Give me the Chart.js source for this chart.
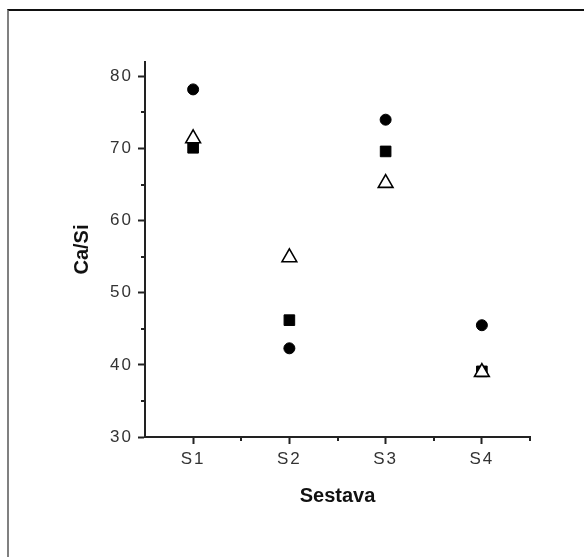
<!DOCTYPE html>
<html>
<head>
<meta charset="utf-8">
<script src="https://cdn.jsdelivr.net/npm/chart.js@4/dist/chart.umd.min.js"></script>
<style>
  html, body { margin: 0; padding: 0; background: #fff; }
  #wrap { position: relative; width: 584px; height: 557px; }
  #frame {
    position: absolute; left: 7px; top: 9px; right: 0; bottom: 0;
    border-top: 2px solid #111; border-left: 2px solid #808080;
  }
  canvas { position: absolute; left: 0; top: 0; }
</style>
</head>
<body>
<div id="wrap">
  <div id="frame"></div>
  <canvas id="chart" width="584" height="557"></canvas>
</div>
<script>
// ==== Data ====
const categories = ["S1", "S2", "S3", "S4"];
const circles = [78.2, 42.3, 74.0, 45.5];
const squares = [70.1, 46.2, 69.6, 39.1];
const triangles = [71.4, 54.9, 65.2, 39.0];
const yTicks = [30, 40, 50, 60, 70, 80];
const yMinor = [35, 45, 55, 65, 75];
const xMinor = [1.5, 2.5, 3.5, 4.5];

// short outward ticks between the labelled ones
const minorTicks = {
  id: "minorTicks",
  beforeDraw(chart) {
    chart.ctx.letterSpacing = "0px";
  },
  afterDatasetsDraw(chart) {
    // tick labels are drawn on a later layer, give them the spaced look
    chart.ctx.letterSpacing = "2px";
  },
  afterDraw(chart) {
    const { ctx, chartArea, scales } = chart;
    ctx.save();
    ctx.strokeStyle = "#222";
    ctx.lineWidth = 2;
    ctx.beginPath();
    yMinor.forEach(v => {
      const y = Math.round(scales.y.getPixelForValue(v));
      ctx.moveTo(chartArea.left - 4, y);
      ctx.lineTo(chartArea.left, y);
    });
    xMinor.forEach(v => {
      const x = Math.round(scales.x.getPixelForValue(v - 1));
      ctx.moveTo(x, chartArea.bottom);
      ctx.lineTo(x, chartArea.bottom + 4);
    });
    ctx.stroke();
    ctx.restore();
    ctx.letterSpacing = "0px";
  }
};

const tickFont = { family: "'Liberation Sans', Arial, sans-serif", size: 17 };
const titleFont = { family: "'Liberation Sans', Arial, sans-serif", size: 20, weight: "bold" };

new Chart(document.getElementById("chart"), {
  type: "line",
  data: {
    labels: categories,
    datasets: [
      { label: "circle", data: circles, pointStyle: "circle", pointRadius: 5.5,
        backgroundColor: "#000", borderColor: "#000", borderWidth: 1, order: 2 },
      { label: "square", data: squares, pointStyle: "rect", pointRadius: 7.5,
        backgroundColor: "#000", borderColor: "#000", borderWidth: 1, order: 1 },
      { label: "triangle", data: triangles, pointStyle: "triangle", pointRadius: 8.5,
        backgroundColor: "#fff", borderColor: "#000", borderWidth: 1.6, order: 0 }
    ].map(d => ({ ...d, showLine: false, pointHoverRadius: d.pointRadius }))
  },
  options: {
    responsive: false,
    animation: false,
    layout: { padding: { top: 62, right: 54, left: 0, bottom: 0 } },
    plugins: { legend: { display: false }, tooltip: { enabled: false } },
    scales: {
      x: {
        type: "category",
        offset: true,
        afterFit: s => { s.height = 120; },
        border: { display: true, color: "#222", width: 2 },
        grid: { drawOnChartArea: false, drawTicks: true, tickLength: 7, tickColor: "#222", tickWidth: 2, offset: false },
        ticks: { color: "#333", font: tickFont, padding: 5, maxRotation: 0, z: 1 },
        title: { display: true, text: "Sestava", color: "#111", font: titleFont, padding: { top: 0, bottom: 49 } }
      },
      y: {
        min: 30,
        max: 82,
        afterFit: s => { s.width = 145; },
        afterBuildTicks: s => { s.ticks = yTicks.map(v => ({ value: v })); },
        border: { display: true, color: "#222", width: 2 },
        grid: { drawOnChartArea: false, drawTicks: true, tickLength: 7, tickColor: "#222", tickWidth: 2 },
        ticks: { color: "#333", font: tickFont, padding: 5, z: 1 },
        title: { display: true, text: "Ca/Si", color: "#111", font: titleFont, padding: { top: 70, bottom: 0 } }
      }
    }
  },
  plugins: [minorTicks]
});
</script>
</body>
</html>
